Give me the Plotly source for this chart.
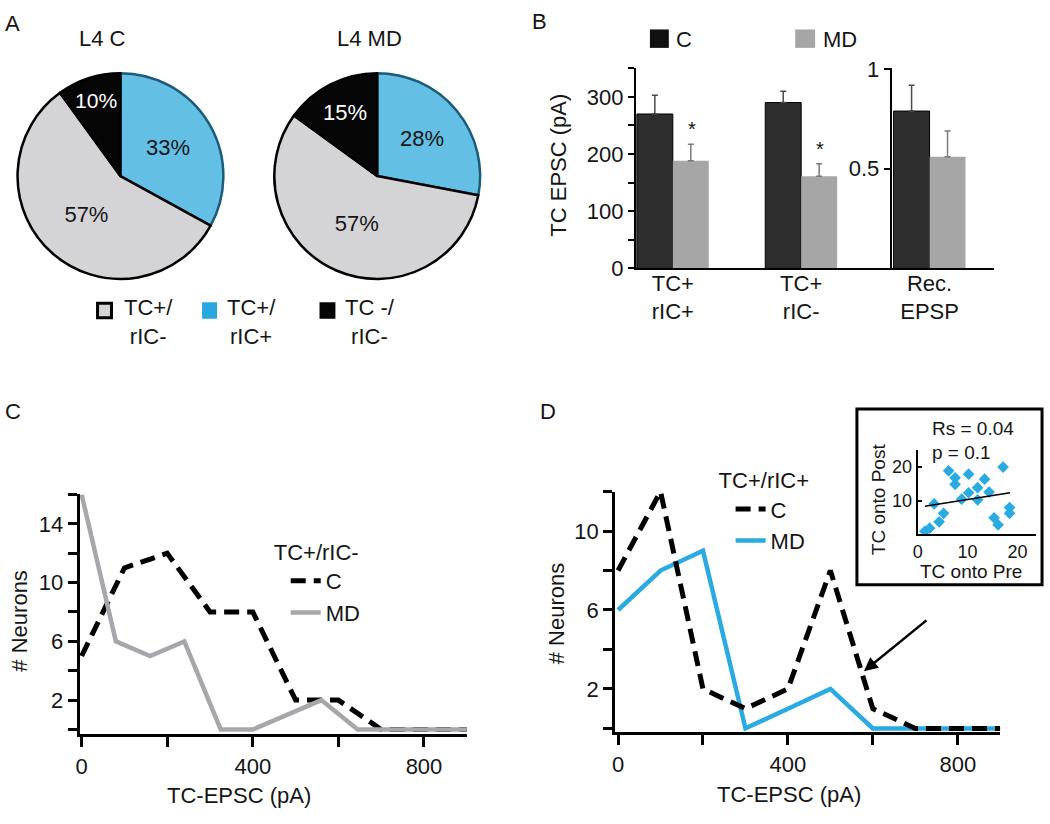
import plotly.graph_objects as go

W, H = 1050, 824
FONT = "Liberation Sans, Arial, Helvetica, sans-serif"
TXT = "#151515"


def fx(p):
    return p / W


def fy(p):
    return 1 - p / H


# ---------------- data ----------------
# Panel A (pie charts), slices listed clockwise from 12 o'clock
pie_labels = ["TC+/rIC+", "TC+/rIC-", "TC -/rIC-"]
pie_values_c = [33, 57, 10]
pie_values_md = [28, 57, 15]
pie_titles = ["L4 C", "L4 MD"]
legend_a_text = ["TC+/<br>rIC-", "TC+/<br>rIC+", "TC -/<br>rIC-"]

# Panel B (bar chart)
bar_categories = ["TC+<br>rIC+", "TC+<br>rIC-", "Rec.<br>EPSP"]
epsc_c = [270, 290]
epsc_c_err = [33, 20]
epsc_md = [188, 161]
epsc_md_err = [29, 22]
epsp_c = [0.79]
epsp_c_err = [0.13]
epsp_md = [0.56]
epsp_md_err = [0.13]
sig_marks = ["*", "*"]

# Panel C (TC+/rIC- distribution)
c_panel_c_x = [0, 100, 200, 300, 400, 500, 600, 700, 800, 900]
c_panel_c_y = [5, 11, 12, 8, 8, 2, 2, 0, 0, 0]
c_panel_md_x = [0, 80, 160, 240, 325, 400, 560, 645, 900]
c_panel_md_y = [16, 6, 5, 6, 0, 0, 2, 0, 0]

# Panel D (TC+/rIC+ distribution)
d_panel_x = [0, 100, 200, 300, 400, 500, 600, 700, 800, 900]
d_panel_c_y = [8, 12, 2, 1, 2, 8, 1, 0, 0, 0]
d_panel_md_y = [6, 8, 9, 0, 1, 2, 0, 0, 0, 0]

# Panel D inset (scatter)
tc_onto_pre = [1.45, 2.4, 3.3, 4.3, 5.2, 6.2, 7.5, 7.5, 8.8, 10.2,
               10.2, 12.0, 12.0, 13.4, 14.3, 15.3, 16.1, 17.1, 18.4, 18.4]
tc_onto_post = [0.9, 1.8, 9.0, 3.7, 6.2, 18.8, 16.7, 14.8, 10.4, 17.8,
                12.3, 13.8, 10.2, 16.3, 12.5, 4.9, 2.8, 19.9, 7.9, 6.2]
fit_x = [1.45, 18.5]
fit_y = [8.3, 12.3]
stats_text = ["Rs = 0.04", "p = 0.1"]

# ---------------- styles ----------------
pie_colors = ["#63bfe4", "#d4d4d6", "#060606"]
pie_line_colors = ["#1b5b7a", "#000000", "#000000"]
pie_text_colors = [TXT, TXT, "#ffffff"]
C_BAR = "#2e2e2e"
MD_BAR = "#a6a6a6"
GRAY_LINE = "#a5a7aa"
BLUE = "#29abe2"

fig = go.Figure()

# ---------------- Panel A: pies ----------------
pie_boxes = [(10, 222), (268, 480)]
for vals, (x0, x1) in zip([pie_values_c, pie_values_md], pie_boxes):
    fig.add_trace(go.Pie(
        labels=pie_labels, values=vals, sort=False,
        direction="clockwise", rotation=0,
        marker=dict(colors=pie_colors, line=dict(color=pie_line_colors, width=2.5)),
        texttemplate="%{percent:.0%}", textposition="inside",
        insidetextorientation="horizontal",
        textfont=dict(size=22, color=pie_text_colors, family=FONT),
        domain=dict(x=[fx(x0), fx(x1)], y=[fy(276), fy(64)]),
        showlegend=False, hoverinfo="skip",
    ))

# ---------------- Panel B: bars ----------------
fig.add_trace(go.Bar(
    x=bar_categories[:2], y=epsc_c, name="C",
    marker=dict(color=C_BAR, line=dict(color="#000", width=1)),
    error_y=dict(type="data", array=epsc_c_err, arrayminus=[0] * len(epsc_c),
                 symmetric=False, color="#4a4a4a", thickness=1.5, width=3),
    xaxis="x", yaxis="y", showlegend=False))
fig.add_trace(go.Bar(
    x=bar_categories[:2], y=epsc_md, name="MD",
    marker=dict(color=MD_BAR, line=dict(width=0)),
    error_y=dict(type="data", array=epsc_md_err, arrayminus=[0] * len(epsc_md),
                 symmetric=False, color="#7a7a7a", thickness=1.5, width=3),
    xaxis="x", yaxis="y", showlegend=False))
fig.add_trace(go.Bar(
    x=bar_categories[2:], y=epsp_c, name="C",
    marker=dict(color=C_BAR, line=dict(color="#000", width=1)),
    error_y=dict(type="data", array=epsp_c_err, arrayminus=[0] * len(epsp_c),
                 symmetric=False, color="#4a4a4a", thickness=1.5, width=3),
    xaxis="x", yaxis="y2", showlegend=False))
fig.add_trace(go.Bar(
    x=bar_categories[2:], y=epsp_md, name="MD",
    marker=dict(color=MD_BAR, line=dict(width=0)),
    error_y=dict(type="data", array=epsp_md_err, arrayminus=[0] * len(epsp_md),
                 symmetric=False, color="#7a7a7a", thickness=1.5, width=3),
    xaxis="x", yaxis="y2", showlegend=False))

# ---------------- Panel C ----------------
fig.add_trace(go.Scatter(
    x=c_panel_c_x, y=c_panel_c_y, mode="lines", name="C",
    line=dict(color="#000", width=5, dash="15px,8px"),
    xaxis="x2", yaxis="y3", legend="legend", hoverinfo="skip"))
fig.add_trace(go.Scatter(
    x=c_panel_md_x, y=c_panel_md_y, mode="lines", name="MD",
    line=dict(color=GRAY_LINE, width=4.5),
    xaxis="x2", yaxis="y3", legend="legend", hoverinfo="skip"))

# ---------------- Panel D ----------------
fig.add_trace(go.Scatter(
    x=d_panel_x, y=d_panel_md_y, mode="lines", name="MD",
    line=dict(color=BLUE, width=4.5), legendrank=2,
    xaxis="x3", yaxis="y4", legend="legend2", hoverinfo="skip"))
fig.add_trace(go.Scatter(
    x=d_panel_x, y=d_panel_c_y, mode="lines", name="C",
    line=dict(color="#000", width=5, dash="15px,8px"), legendrank=1,
    xaxis="x3", yaxis="y4", legend="legend2", hoverinfo="skip"))

# ---------------- Inset ----------------
fig.add_trace(go.Scatter(
    x=tc_onto_pre, y=tc_onto_post, mode="markers",
    marker=dict(symbol="diamond", size=9, color=BLUE),
    xaxis="x4", yaxis="y5", showlegend=False, hoverinfo="skip"))
fig.add_trace(go.Scatter(
    x=fit_x, y=fit_y, mode="lines", line=dict(color="#000", width=1.5),
    xaxis="x4", yaxis="y5", showlegend=False, hoverinfo="skip"))

axis_common = dict(showgrid=False, zeroline=False, showline=True,
                   linecolor="#000", tickcolor="#000", ticks="outside")

layout_axes = dict(
    # Panel B
    xaxis=dict(axis_common, domain=[fx(634), fx(994)], anchor="y",
               type="category", categoryorder="array", categoryarray=bar_categories,
               range=[-0.287, 2.504], linewidth=2, ticks="", ticklabelstandoff=-6,
               tickfont=dict(size=22, color=TXT)),
    yaxis=dict(axis_common, domain=[fy(265), fy(59)], anchor="x",
               range=[0, 350], linewidth=2, ticklen=6, tickwidth=2,
               tickvals=[0, 50, 100, 150, 200, 250, 300, 350],
               ticktext=["0", "", "100", "", "200", "", "300", ""],
               tickfont=dict(size=22, color=TXT)),
    yaxis2=dict(axis_common, overlaying="y", anchor="free", position=fx(890),
                side="left", range=[0, 1.005], linewidth=2, ticklen=6, tickwidth=2,
                tickvals=[0.5, 1], ticktext=["0.5", "1"],
                tickfont=dict(size=22, color=TXT)),
    # Panel C
    xaxis2=dict(axis_common, domain=[fx(75), fx(464)], anchor="y3",
                range=[-4.65, 900], linewidth=3, ticklen=10, tickwidth=2.5,
                tickvals=[0, 200, 400, 600, 800], ticktext=["0", "", "400", "", "800"],
                tickfont=dict(size=22, color=TXT)),
    yaxis3=dict(axis_common, domain=[fy(745), fy(498)], anchor="x2",
                range=[-0.33, 16], linewidth=3, ticklen=9, tickwidth=2.5,
                tickvals=list(range(0, 17, 2)),
                ticktext=["", "2", "", "6", "", "10", "", "14", ""],
                tickfont=dict(size=22, color=TXT)),
    # Panel D
    xaxis3=dict(axis_common, domain=[fx(613), fx(1000)], anchor="y4",
                range=[-7, 900], linewidth=3, ticklen=10, tickwidth=2.5,
                tickvals=[0, 200, 400, 600, 800], ticktext=["0", "", "400", "", "800"],
                tickfont=dict(size=22, color=TXT)),
    yaxis4=dict(axis_common, domain=[fy(743), fy(495)], anchor="x3",
                range=[-0.2, 12], linewidth=3, ticklen=9, tickwidth=2.5,
                tickvals=list(range(0, 13, 2)),
                ticktext=["", "2", "", "6", "", "10", ""],
                tickfont=dict(size=22, color=TXT)),
    # Inset
    xaxis4=dict(axis_common, domain=[fx(917), fx(1036)], anchor="y5",
                range=[0, 23.7], linewidth=2, ticks="",
                tickvals=[0, 10, 20], tickfont=dict(size=18, color=TXT)),
    yaxis5=dict(axis_common, domain=[fy(539), fy(452)], anchor="x4",
                range=[0, 25], linewidth=2, ticks="inside", ticklen=4, tickwidth=1.5,
                tickvals=[10, 20], tickfont=dict(size=18, color=TXT)),
)


def ann(text, x, y, size=22, xanchor="center", yanchor="middle", angle=0, color=TXT, **kw):
    return dict(text=text, x=fx(x), y=fy(y), xref="paper", yref="paper",
                xanchor=xanchor, yanchor=yanchor, showarrow=False, textangle=angle,
                font=dict(size=size, color=color, family=FONT), **kw)


annotations = [
    ann("A", 8, 13), ann("B", 537, 11), ann("C", 8, 413), ann("D", 546, 413),
    ann(pie_titles[0], 98, 28), ann(pie_titles[1], 366, 28),
    ann(legend_a_text[0], 144, 320), ann(legend_a_text[1], 248, 320),
    ann(legend_a_text[2], 367, 320),
    ann("C", 672, 29, xanchor="left"), ann("MD", 820, 29, xanchor="left"),
    ann("TC EPSC (pA)", 556, 159, angle=-90),
    ann("# Neurons", 15, 628, angle=-90), ann("TC-EPSC (pA)", 235, 808),
    ann("# Neurons", 555, 620, angle=-90), ann("TC-EPSC (pA)", 788, 807),
    ann("TC onto Post", 878, 503, size=19, angle=-90),
    ann("TC onto Pre", 971, 577, size=19),
    ann(stats_text[0], 929, 430, size=19, xanchor="left"),
    ann(stats_text[1], 929, 455, size=19, xanchor="left"),
]

# significance asterisks above MD bars
for cat, val, err, mark in zip(bar_categories[:2], epsc_md, epsc_md_err, sig_marks):
    annotations.append(dict(text=mark, x=cat, y=val + err, xref="x", yref="y",
                            xshift=19, yanchor="bottom", yshift=2, showarrow=False,
                            font=dict(size=20, color=TXT, family=FONT)))

# arrow in panel D pointing at the dashed C curve
annotations.append(dict(text="", x=579, y=2.9, xref="x3", yref="y4",
                        showarrow=True, ax=64, ay=-52, arrowhead=2, arrowsize=1.1,
                        arrowwidth=2.5, arrowcolor="#000"))

shapes = [
    # Panel A legend squares
    dict(type="rect", xref="paper", yref="paper", x0=fx(93), x1=fx(107), y0=fy(316), y1=fy(301),
         fillcolor=pie_colors[1], line=dict(color="#000", width=3)),
    dict(type="rect", xref="paper", yref="paper", x0=fx(198), x1=fx(213), y0=fy(317), y1=fy(300),
         fillcolor="#29a8e0", line=dict(width=0)),
    dict(type="rect", xref="paper", yref="paper", x0=fx(316), x1=fx(332), y0=fy(317), y1=fy(300),
         fillcolor=pie_colors[2], line=dict(width=0)),
    # Panel B legend squares
    dict(type="rect", xref="paper", yref="paper", x0=fx(648), x1=fx(667), y0=fy(38), y1=fy(19),
         fillcolor="#111", line=dict(width=0)),
    dict(type="rect", xref="paper", yref="paper", x0=fx(794), x1=fx(814), y0=fy(38), y1=fy(19),
         fillcolor=MD_BAR, line=dict(width=0)),
    # Inset frame
    dict(type="rect", xref="paper", yref="paper", x0=fx(856), x1=fx(1042), y0=fy(591), y1=fy(410),
         fillcolor="rgba(0,0,0,0)", line=dict(color="#000", width=3), layer="above"),
]

fig.update_layout(
    width=W, height=H, margin=dict(l=0, r=0, t=0, b=0),
    paper_bgcolor="white", plot_bgcolor="white",
    font=dict(family=FONT, size=22, color=TXT),
    barmode="group", bargap=0.44, bargroupgap=0,
    annotations=annotations, shapes=shapes,
    legend=dict(x=fx(268), y=fy(536), xanchor="left", yanchor="top",
                title=dict(text="TC+/rIC-", font=dict(size=22, color=TXT)),
                font=dict(size=22, color=TXT), bgcolor="rgba(0,0,0,0)",
                indentation=14, tracegroupgap=0),
    legend2=dict(x=fx(715), y=fy(462), xanchor="left", yanchor="top",
                 title=dict(text="TC+/rIC+", font=dict(size=22, color=TXT)),
                 font=dict(size=22, color=TXT), bgcolor="rgba(0,0,0,0)",
                 indentation=14, tracegroupgap=0),
    hovermode=False,
    **layout_axes,
)

fig.write_html("out.html", config={"displayModeBar": False},
               post_script="document.body.style.margin='0';")
